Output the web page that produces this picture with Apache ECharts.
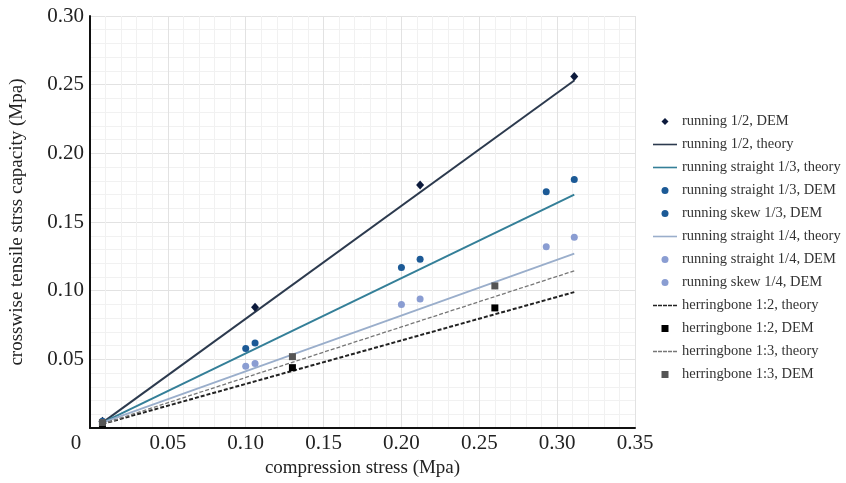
<!DOCTYPE html>
<html><head><meta charset="utf-8">
<script src="https://cdn.jsdelivr.net/npm/echarts@6/dist/echarts.min.js"></script>
<style>html,body{margin:0;padding:0;background:#fff}#c{width:846px;height:483px}</style>
</head><body><div id="c"></div>
<script>
// ---- data ----
const xTicks = [0, 0.05, 0.10, 0.15, 0.20, 0.25, 0.30, 0.35];
const yTicks = [0, 0.05, 0.10, 0.15, 0.20, 0.25, 0.30];

const running12DEM = [[0.008, 0.005], [0.106, 0.088], [0.212, 0.177], [0.311, 0.256]];
const running12Theory = [[0.008, 0.004], [0.311, 0.253]];
const runningStraight13Theory = [[0.008, 0.004], [0.311, 0.170]];
const runningStraight13DEM = [[0.008, 0.005], [0.100, 0.058], [0.200, 0.117], [0.293, 0.172]];
const runningSkew13DEM = [[0.106, 0.062], [0.212, 0.123], [0.311, 0.181]];
const runningStraight14Theory = [[0.008, 0.004], [0.311, 0.127]];
const runningStraight14DEM = [[0.008, 0.004], [0.100, 0.045], [0.200, 0.090], [0.293, 0.132]];
const runningSkew14DEM = [[0.106, 0.047], [0.212, 0.094], [0.311, 0.139]];
const herring12Theory = [[0.008, 0.003], [0.311, 0.099]];
const herring12DEM = [[0.008, 0.003], [0.130, 0.044], [0.260, 0.0875]];
const herring13Theory = [[0.008, 0.003], [0.311, 0.1145]];
const herring13DEM = [[0.008, 0.004], [0.130, 0.052], [0.260, 0.1035]];

const names = [
  'running 1/2, DEM', 'running 1/2, theory', 'running straight 1/3, theory',
  'running straight 1/3, DEM', 'running skew 1/3, DEM', 'running straight 1/4, theory',
  'running straight 1/4, DEM', 'running skew 1/4, DEM', 'herringbone 1:2, theory',
  'herringbone 1:2, DEM', 'herringbone 1:3, theory', 'herringbone 1:3, DEM'
];

const serif = "'Liberation Serif', 'Times New Roman', serif";
const chart = echarts.init(document.getElementById('c'), null, {renderer: 'canvas'});

// legend icons (paths keep their aspect ratio inside the legend box)
const ICON_SOLID = 'path://M0,0L24,0L24,1.6L0,1.6Z';
const ICON_DASH = 'path://M0,0L4,0L4,1.6L0,1.6Z M5,0L9,0L9,1.6L5,1.6Z M10,0L14,0L14,1.6L10,1.6Z M15,0L19,0L19,1.6L15,1.6Z M20,0L24,0L24,1.6L20,1.6Z';

function sc(name, data, color, symbol, size) {
  return {name, type: 'scatter', data, symbol, symbolSize: size,
    itemStyle: {color, opacity: 1}, z: 5};
}
function ln(name, data, color, width, type) {
  return {name, type: 'line', data, symbol: 'none', showSymbol: false,
    lineStyle: {color, width, type: type || 'solid'}, itemStyle: {color}, z: 3};
}

const legendIcons = [
  'path://M3,0L6,3L3,6L0,3Z', ICON_SOLID, ICON_SOLID,
  'circle', 'circle', ICON_SOLID,
  'circle', 'circle', ICON_DASH,
  'path://M0,0L6,0L6,6L0,6Z', ICON_DASH, 'path://M0,0L6,0L6,6L0,6Z'
];

chart.setOption({
  animation: false,
  textStyle: {fontFamily: serif},
  grid: {left: 86, right: 211, top: 16, bottom: 53, containLabel: false},
  legend: {
    orient: 'vertical', left: 648, top: 109, itemGap: 8, itemWidth: 24, itemHeight: 7,
    textStyle: {fontFamily: serif, fontSize: 14.5, color: '#333', lineHeight: 15},
    data: names.map((n, i) => ({name: n, icon: legendIcons[i]}))
  },
  xAxis: {
    type: 'value', min: 0, max: 0.35, interval: 0.05,
    name: 'compression stress (Mpa)', nameLocation: 'middle', nameGap: 28,
    nameTextStyle: {fontFamily: serif, fontSize: 19, color: '#222'},
    axisLine: {show: true, onZero: false, lineStyle: {color: '#111', width: 2}},
    axisTick: {show: false},
    axisLabel: {fontFamily: serif, fontSize: 21, color: '#222', margin: 5,
      formatter: v => v === 0 ? '{z|0}' : v.toFixed(2),
      rich: {z: {fontFamily: serif, fontSize: 21, color: '#222', padding: [0, 28, 0, 0]}}},
    splitLine: {show: true, lineStyle: {color: '#e2e2e2', width: 1}},
    minorTick: {show: false, splitNumber: 5},
    minorSplitLine: {show: true, lineStyle: {color: '#f1f1f1', width: 1}}
  },
  yAxis: {
    type: 'value', min: 0, max: 0.30, interval: 0.05,
    name: 'crosswise tensile strss capacity (Mpa)', nameLocation: 'middle', nameGap: 63,
    nameTextStyle: {fontFamily: serif, fontSize: 19, color: '#222'},
    axisLine: {show: true, onZero: false, lineStyle: {color: '#111', width: 2}},
    axisTick: {show: false},
    axisLabel: {fontFamily: serif, fontSize: 21, color: '#222', margin: 6,
      formatter: v => v === 0 ? '' : v.toFixed(2)},
    splitLine: {show: true, lineStyle: {color: '#e2e2e2', width: 1}},
    minorTick: {show: false, splitNumber: 5},
    minorSplitLine: {show: true, lineStyle: {color: '#f1f1f1', width: 1}}
  },
  series: [
    sc(names[0], running12DEM, '#0c1a3c', 'diamond', [8, 9]),
    ln(names[1], running12Theory, '#2c3a4e', 2),
    ln(names[2], runningStraight13Theory, '#347f98', 2),
    sc(names[3], runningStraight13DEM, '#1c5a96', 'circle', 7),
    sc(names[4], runningSkew13DEM, '#1c5a96', 'circle', 7),
    ln(names[5], runningStraight14Theory, '#9aaecb', 1.8),
    sc(names[6], runningStraight14DEM, '#8a9dd2', 'circle', 7),
    sc(names[7], runningSkew14DEM, '#8a9dd2', 'circle', 7),
    ln(names[8], herring12Theory, '#222222', 2, [4, 2]),
    sc(names[9], herring12DEM, '#000000', 'rect', 7),
    ln(names[10], herring13Theory, '#777777', 1.3, [4, 2]),
    sc(names[11], herring13DEM, '#555555', 'rect', 7)
  ]
});
</script></body></html>
